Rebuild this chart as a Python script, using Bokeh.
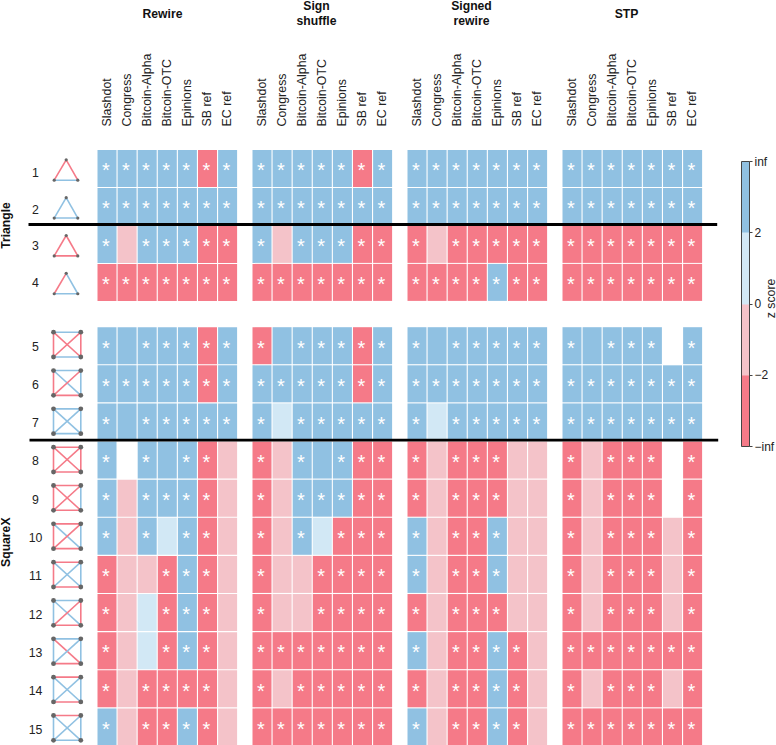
from math import pi
from bokeh.plotting import figure
from bokeh.embed import file_html
from bokeh.resources import INLINE
from bokeh.core.properties import value
from bokeh.models import ColorBar, LinearColorMapper, FixedTicker, Range1d

# ---- data -------------------------------------------------------------
datasets = ["Slashdot", "Congress", "Bitcoin-Alpha", "Bitcoin-OTC", "Epinions", "SB ref", "EC ref"]
row_labels = [str(i) for i in range(1, 16)]

# B: z>2 with star, b: z>2 no star, l: 0<z<2, p: -2<z<0, R: z<-2 with star, .: no value
rewire = ["BBBBBRB", "BBBBBBB", "BpBBBRR", "RRRRRRR", "BbBBBRB", "BBBBBRB", "BbBBBBB", "B.BbBRp",
          "BpBBBRp", "BpBlBRp", "RppRBRp", "RplRBRp", "RplRBRp", "RpRRRRp", "BpRRBRp"]
sign_shuffle = ["BBBBBRB", "BBBBBBB", "BpBBBRR", "RRRRRRR", "RbBBBRB", "BBBBBRB", "BlBBBBB", "RpBbBRR",
                "RpBBBRR", "RpBlRRR", "RppRRRR", "RppRRRR", "RRRRRRR", "RpRRRRR", "RRRRRRR"]
signed_rewire = ["BBBBBBB", "BBBBBBB", "RpRRRRR", "RRRRBRR", "BbBBBBB", "BBBBBBB", "BlBBBBB", "RpRRRpp",
                 "RpRRRpp", "BpRRBpp", "BpRRBpp", "RpRRRpp", "BpRRBRp", "RpRRBRp", "BpRRBRp"]
stp = ["BBBBBBB", "BBBBBBB", "RRRRRRR", "RRRRRRR", "BbBBB.B", "BBBBBBB", "BBBBBBB", "RpRRR.R",
       "RpRRR.R", "RpRRRpR", "RpRRRpR", "RpRRRpR", "RRRRRRR", "RpRRRpR", "RRRRRRR"]
groups = [rewire, sign_shuffle, signed_rewire, stp]
group_titles = [["Rewire"], ["Sign", "shuffle"], ["Signed", "rewire"], ["STP"]]

# triangle motif edges: left, right, bottom
triangle_signs = ["RRB", "BBB", "RRR", "RBB"]
# square motif edges: top, bottom, left, right, TL-BR, BL-TR
square_signs = ["BBRRRR", "BRRBBR", "BBBBBB", "RRRRRR", "RRRBRR", "RRRBBR", "RRRBBB",
                "BRBRBR", "BRBBRB", "RRBBBB", "RBBBBB"]

cb_labels = ["\u2212inf", "\u22122", "0", "2", "inf"]

# ---- style ------------------------------------------------------------
BLUE, LIGHT, PINK, RED = "#90C1E2", "#D2E8F5", "#F4C3C9", "#F57A88"
fills = {"B": BLUE, "b": BLUE, "l": LIGHT, "p": PINK, "R": RED}
edge = {"R": RED, "B": BLUE}
FONT = value("Liberation Sans")
TXT = "#222222"
NODE = "#666666"

p = figure(width=776, height=745, output_backend="svg", toolbar_location=None,
           x_range=Range1d(0, 776), y_range=Range1d(745, 0),
           x_axis_location=None, y_axis_location=None, min_border=0,
           outline_line_color=None, tools="")
p.grid.visible = False

GX0, GDX, CDX = 97.0, 155.0, 20.1
CW, CH = 19.0, 37.0
ROW0, RDY = 149.4, 38.0


def row_top(r):
    if r < 4:
        return ROW0 + r * RDY
    return 326.7 + (r - 4) * 38.12


cx, cy, cc, sx, sy = [], [], [], [], []
for g, grp in enumerate(groups):
    for r, row in enumerate(grp):
        for c, ch in enumerate(row):
            x = GX0 + g * GDX + c * CDX + CW / 2
            y = row_top(r) + CH / 2
            if ch in fills:
                cx.append(x); cy.append(y); cc.append(fills[ch])
            if ch in "BR":
                sx.append(x - 1.2); sy.append(y + 1.8)

p.rect(cx, cy, width=CW, height=CH, fill_color=cc, line_color=None)
p.text(sx, sy, text=["*"] * len(sx), text_color="#FFFFFF", text_align="center", text_baseline="middle",
       text_font=FONT, text_font_size="20px")

# column labels
lx, ly, lt = [], [], []
for g in range(4):
    for c, name in enumerate(datasets):
        lx.append(GX0 + g * GDX + c * CDX + CW / 2 - 0.4)
        ly.append(126)
        lt.append(name)
p.text(lx, ly, text=lt, angle=pi / 2, text_align="left", text_baseline="middle", text_color=TXT,
       text_font=FONT, text_font_size="12.4px")

# group titles
tx = [162, 316, 471, 626]
for g, lines in enumerate(group_titles):
    ys = [13.5] if len(lines) == 1 else [5.5, 20.5]
    p.text([tx[g]] * len(lines), ys, text=lines, text_align="center", text_baseline="middle",
           text_color="#111111", text_font=FONT, text_font_size="12.2px", text_font_style="bold")

# row labels
rly = [172.2, 208.5, 245, 282, 345.5, 383.5, 422, 460.3, 498.5, 537, 575.3, 613.7, 652, 690.3, 728.7]
p.text([35] * 15, rly, text=row_labels, text_align="center", text_baseline="middle", text_color=TXT,
       text_font=FONT, text_font_size="12.3px")

# side labels
p.text([5, 5], [225, 541.7], text=["Triangle", "SquareX"], angle=pi / 2, text_align="center",
       text_baseline="middle", text_color="#111111", text_font=FONT, text_font_size="12.2px",
       text_font_style="bold")

# separators
p.segment([28, 29], [224, 439.7], [716.7, 717.7], [224, 439.7], line_color="#000000", line_width=2.8)

# triangle motifs
ex0, ey0, ex1, ey1, ec = [], [], [], [], []
nx, ny = [], []
for i, signs in enumerate(triangle_signs):
    t = 159.3 + i * 37.85
    b = t + 20.4
    l, m, rr = 53.7, 65.7, 77.3
    for (a, bb, c, d), s in zip([(l, b, m, t), (m, t, rr, b), (l, b, rr, b)], signs):
        ex0.append(a); ey0.append(bb); ex1.append(c); ey1.append(d); ec.append(edge[s])
    nx += [m, l, rr]; ny += [t, b, b]
p.segment(ex0, ey0, ex1, ey1, line_color=ec, line_width=1.6)
p.scatter(nx, ny, size=3.2, fill_color=NODE, line_color=None)

# square motifs
ex0, ey0, ex1, ey1, ec = [], [], [], [], []
nx, ny = [], []
for i, signs in enumerate(square_signs):
    t = 331.7 + i * 38.33
    b = t + 24.8
    l, rr = 53, 80.3
    segs = [(l, t, rr, t), (l, b, rr, b), (l, t, l, b), (rr, t, rr, b), (l, t, rr, b), (l, b, rr, t)]
    for (a, bb, c, d), s in zip(segs, signs):
        ex0.append(a); ey0.append(bb); ex1.append(c); ey1.append(d); ec.append(edge[s])
    nx += [l, rr, l, rr]; ny += [t, t, b, b]
p.segment(ex0, ey0, ex1, ey1, line_color=ec, line_width=1.6)
p.scatter(nx, ny, size=4.8, fill_color=NODE, line_color=None)

# colour bar
mapper = LinearColorMapper(palette=[RED, PINK, LIGHT, BLUE], low=0, high=4)
cb = ColorBar(color_mapper=mapper, ticker=FixedTicker(ticks=[0, 1, 2, 3, 4]),
              major_label_overrides={i: s for i, s in enumerate(cb_labels)},
              width=8, height=285, location=(741, 745 - 446), padding=0, margin=0,
              background_fill_color=None, background_fill_alpha=0,
              border_line_color=None, bar_line_color="#444444", bar_line_width=1,
              major_tick_line_color="#444444", major_tick_in=0, major_tick_out=3, minor_tick_line_color=None,
              label_standoff=2, major_label_text_font="Liberation Sans", major_label_text_font_size="12px",
              major_label_text_color=TXT)
p.add_layout(cb, "center")

p.text([770], [298], text=["z score"], angle=pi / 2, text_align="center", text_baseline="middle",
       text_color=TXT, text_font=FONT, text_font_size="12.3px")

open("out.html", "w").write(file_html(p, INLINE))
